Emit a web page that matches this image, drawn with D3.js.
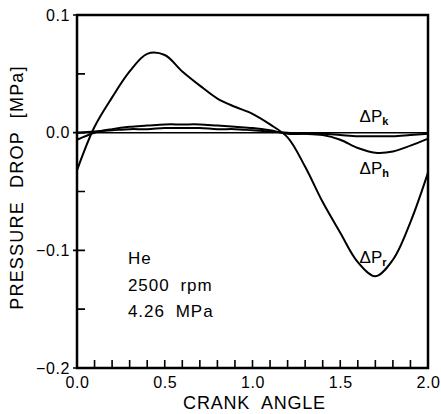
<!DOCTYPE html>
<html>
<head>
<meta charset="utf-8">
<script src="https://cdn.jsdelivr.net/npm/d3@7"></script>
<style>
  body { margin: 0; background: #fff; }
  text { font-family: "Liberation Sans", Arial, sans-serif; fill: #000; }
</style>
</head>
<body>
<div id="chart"></div>
<script>
// Crank angle sample points
const crankAngle = [0.0, 0.1, 0.2, 0.3, 0.4, 0.5, 0.6, 0.7, 0.8, 0.9, 1.0,
                    1.1, 1.2, 1.3, 1.4, 1.5, 1.6, 1.7, 1.8, 1.9, 2.0];

// Pressure drops [MPa]
const dPr = [-0.032, 0.005, 0.030, 0.052, 0.067, 0.066, 0.052, 0.040, 0.029, 0.022, 0.016,
             0.007, -0.004, -0.029, -0.059, -0.085, -0.110, -0.122, -0.108, -0.076, -0.034];
const dPh = [-0.006, 0.000, 0.003, 0.005, 0.006, 0.007, 0.007, 0.007, 0.006, 0.005, 0.004,
             0.002, -0.001, -0.001, -0.002, -0.006, -0.013, -0.017, -0.016, -0.011, -0.005];
const dPk = [0.000, 0.001, 0.002, 0.003, 0.003, 0.004, 0.004, 0.004, 0.003, 0.003, 0.002,
             0.001, 0.000, -0.001, -0.001, -0.002, -0.003, -0.003, -0.003, -0.002, -0.001];

const seriesNames = ["k", "h", "r"];
const seriesValues = [dPk, dPh, dPr];
// where each label sits (x in crank angle, y in MPa)
const labelPos = [[1.61, 0.009], [1.61, -0.035], [1.61, -0.111]];

const xTicksMajor = [0.0, 0.5, 1.0, 1.5, 2.0];
const yTicksMajor = [0.1, 0.0, -0.1, -0.2];
const notes = ["He", "2500 rpm", "4.26 MPa"];

const width = 441, height = 414;
const margin = { left: 77, right: 13, top: 15, bottom: 46 };

const svg = d3.select("#chart").append("svg")
    .attr("width", width)
    .attr("height", height);

const x = d3.scaleLinear().domain([0, 2]).range([margin.left, width - margin.right]);
const y = d3.scaleLinear().domain([-0.2, 0.1]).range([height - margin.bottom, margin.top]);

const labelFont = g => g.selectAll("text")
    .attr("font-size", 16)
    .attr("letter-spacing", 0.6)
    .attr("font-family", "Liberation Sans, Arial, sans-serif")
    .attr("fill", "#000");

// frame
svg.append("path")
    .attr("d", `M${x(0)},${y(-0.2)}V${y(0.1)}H${x(2)}V${y(-0.2)}Z`)
    .attr("fill", "none").attr("stroke", "#000").attr("stroke-width", 2.5);

// tick marks as one path each, placed through the scales
const xMinor = d3.range(0, 21).map(i => i / 10);
const yMinor = d3.range(-4, 3).map(i => i * 0.05);

const xTickPath = d3.path();
xMinor.forEach(v => { xTickPath.moveTo(x(v), y(-0.2)); xTickPath.lineTo(x(v), y(-0.2) - 8); });
svg.append("path")
    .attr("class", "xticks")
    .attr("d", xTickPath.toString())
    .attr("fill", "none").attr("stroke", "#000").attr("stroke-width", 1.6);

const yTickPath = d3.path();
yMinor.forEach(v => { yTickPath.moveTo(x(0), y(v)); yTickPath.lineTo(x(0) + 8, y(v)); });
yTicksMajor.forEach(v => { yTickPath.moveTo(x(0) - 4, y(v)); yTickPath.lineTo(x(0), y(v)); });
svg.append("path")
    .attr("class", "yticks")
    .attr("d", yTickPath.toString())
    .attr("fill", "none").attr("stroke", "#000").attr("stroke-width", 1.6);

// tick labels
svg.append("g")
    .attr("transform", `translate(0,${y(-0.2)})`)
    .call(d3.axisBottom(x).tickValues(xTicksMajor).tickSize(0).tickPadding(9).tickFormat(d3.format(".1f")))
    .call(g => g.select(".domain").remove())
    .call(g => g.selectAll(".tick line").remove())
    .call(labelFont);

svg.append("g")
    .attr("transform", `translate(${x(0)},0)`)
    .call(d3.axisLeft(y).tickValues(yTicksMajor).tickSize(0).tickPadding(7).tickFormat(d3.format(".1f")))
    .call(g => g.select(".domain").remove())
    .call(g => g.selectAll(".tick line").remove())
    .call(labelFont);

// zero reference line
svg.append("line")
    .attr("x1", x(0)).attr("x2", x(2))
    .attr("y1", y(0)).attr("y2", y(0))
    .attr("stroke", "#000").attr("stroke-width", 1.5);

// curves
const lineGen = d3.line()
    .x((d, i) => x(crankAngle[i]))
    .y(d => y(d))
    .curve(d3.curveCatmullRom.alpha(0.5));

svg.selectAll("path.curve")
    .data(seriesValues)
    .join("path")
    .attr("class", "curve")
    .attr("d", lineGen)
    .attr("fill", "none")
    .attr("stroke", "#000")
    .attr("stroke-width", 2);

// curve labels: ΔP with subscript
const labels = svg.selectAll("text.lbl")
    .data(seriesNames)
    .join("text")
    .attr("class", "lbl")
    .attr("x", (d, i) => x(labelPos[i][0]))
    .attr("y", (d, i) => y(labelPos[i][1]))
    .attr("font-size", 17);
labels.append("tspan").text("ΔP");
labels.append("tspan").attr("font-size", 11).attr("dy", 3).attr("font-weight", "bold").text(d => d);

// notes
svg.selectAll("text.note")
    .data(notes)
    .join("text")
    .attr("class", "note")
    .attr("x", x(0.29))
    .attr("y", (d, i) => y(-0.112) + i * 26.5)
    .attr("font-size", 17)
    .attr("letter-spacing", 1)
    .attr("word-spacing", 5)
    .text(d => d);

// axis titles
svg.append("text")
    .attr("x", x(1.0) + 2)
    .attr("y", 409)
    .attr("text-anchor", "middle")
    .attr("font-size", 18)
    .attr("letter-spacing", 0.8)
    .attr("word-spacing", 6)
    .text("CRANK ANGLE");

svg.append("text")
    .attr("transform", `translate(23,${y(-0.05) - 4}) rotate(-90)`)
    .attr("text-anchor", "middle")
    .attr("font-size", 18)
    .attr("letter-spacing", 1.2)
    .attr("word-spacing", 7)
    .text("PRESSURE DROP [MPa]");
</script>
</body>
</html>
